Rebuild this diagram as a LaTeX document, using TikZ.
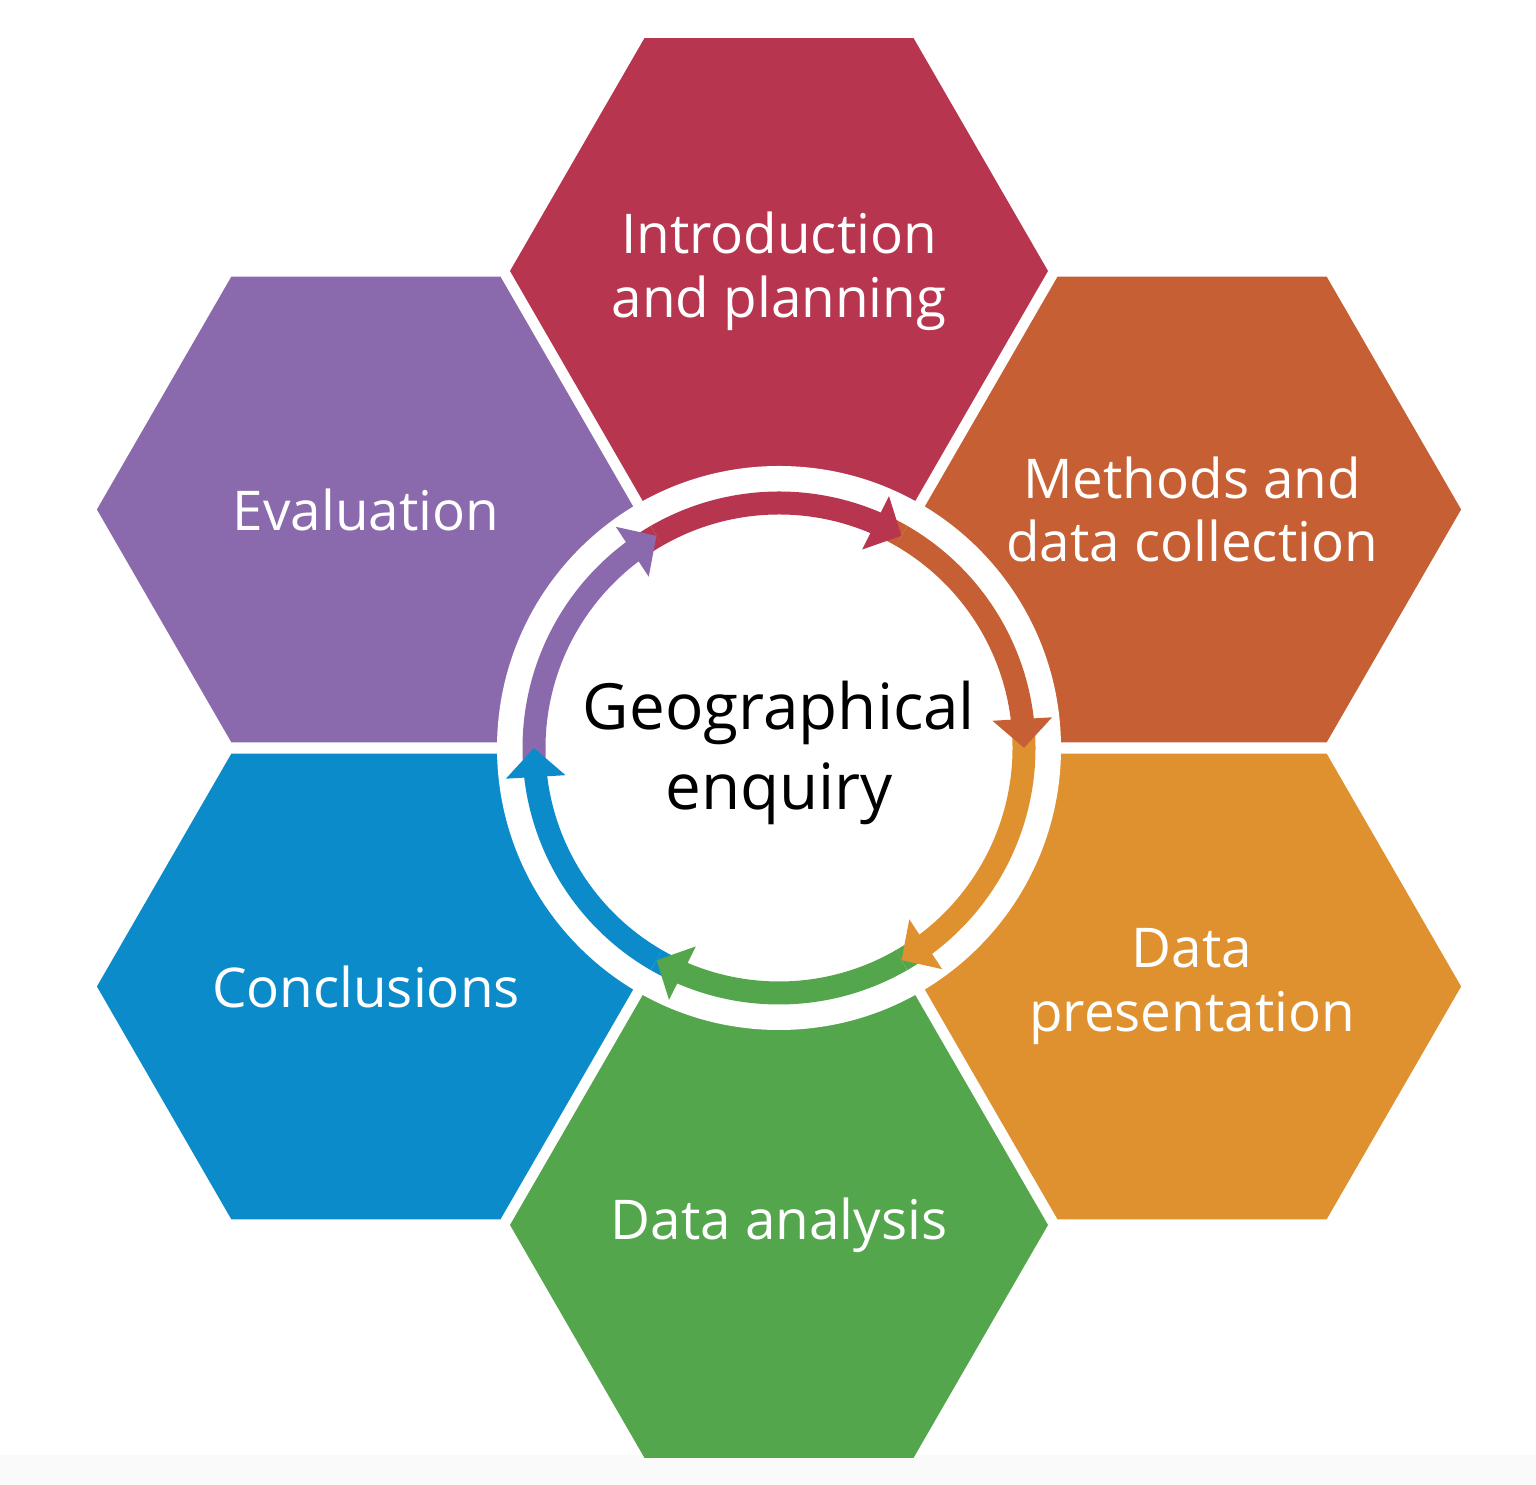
\documentclass[tikz,border=0pt]{standalone}
\usepackage{fontspec}
\setmainfont{Open Sans}
\usetikzlibrary{arrows.meta,bending,calc}
\definecolor{cRed}{HTML}{B7354F}
\definecolor{cRust}{HTML}{C65F33}
\definecolor{cOrange}{HTML}{E0912F}
\definecolor{cGreen}{HTML}{53A64B}
\definecolor{cBlue}{HTML}{0B8BCA}
\definecolor{cPurple}{HTML}{8A6AAC}
\definecolor{cStrip}{HTML}{FAFAFA}
\begin{document}
\begin{tikzpicture}[x=1bp,y=1bp,
  hexlabel/.style={text=white,align=center,font=\fontsize{55}{64}\selectfont,inner sep=0pt},
  centrelabel/.style={text=black,align=center,font=\fontsize{64}{80}\selectfont,inner sep=0pt},
  ringband/.style={line width=23bp},
  ringarrow/.style={line width=23bp,-{Triangle[width=58bp,length=29bp]}}
]
\useasboundingbox (0,0) rectangle (1536,1485);
\fill[white] (0,0) rectangle (1536,1485);
\fill[cStrip] (0,0) rectangle (1536,30);
\coordinate (C) at (779,737);
% hexagons
\foreach \a/\col/\nm in {90/cRed/hT, 30/cRust/hUR, -30/cOrange/hLR, -90/cGreen/hB, -150/cBlue/hLL, 150/cPurple/hUL} {
  \coordinate (\nm) at ($(C)+(\a:477)$);
  \fill[\col] (\nm) ++(0:269) -- ++(120:269) -- ++(180:269) -- ++(240:269) -- ++(300:269) -- ++(0:269) -- cycle;
}
% central disc
\fill[white] (C) circle[radius=282];
% ring: short band pieces lying under the previous arrow head
\foreach \s/\col in {120/cRed, 60/cRust, 0/cOrange, -60/cGreen, -120/cBlue, 180/cPurple} {
  \draw[ringband,\col] ($(C)+({\s+6}:245)$) arc[start angle={\s+6}, end angle=\s, radius=245];
}
% ring: arrows
\foreach \s/\col in {120/cRed, 60/cRust, 0/cOrange, -60/cGreen, -120/cBlue, 180/cPurple} {
  \draw[ringarrow,\col] ($(C)+(\s:245)$) arc[start angle=\s, end angle={\s-60}, radius=245];
}
% labels
\node[hexlabel] (tIntro) at (hT) {Introduction\\and planning};
\node[hexlabel] (tMeth) at (hUR) {Methods and\\data collection};
\node[hexlabel] (tPres) at (hLR) {Data\\presentation};
\node[hexlabel] (tAnal) at (hB) {Data analysis};
\node[hexlabel] (tConc) at (hLL) {Conclusions};
\node[hexlabel] (tEval) at (hUL) {Evaluation};
\node[centrelabel] (tGeo) at ($(C)+(0,-5)$) {Geographical\\enquiry};
\end{tikzpicture}
\end{document}
